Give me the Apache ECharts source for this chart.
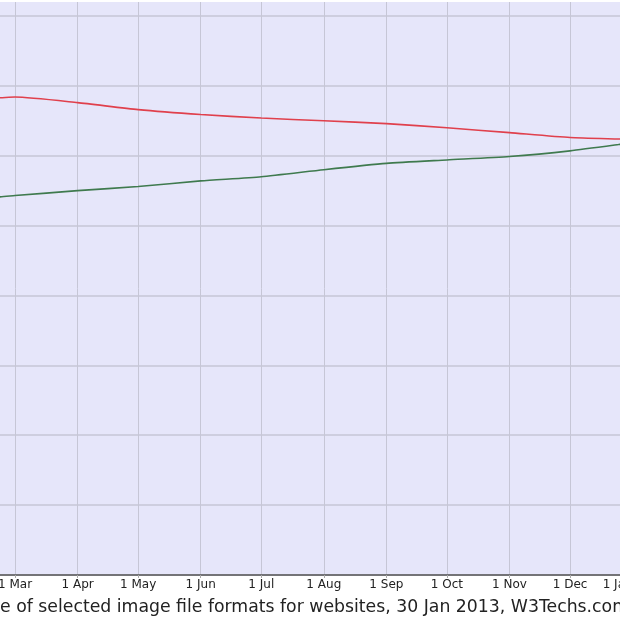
<!DOCTYPE html>
<html>
<head>
<meta charset="utf-8">
<script src="https://cdn.jsdelivr.net/npm/echarts@6/dist/echarts.min.js"></script>
<style>
html,body{margin:0;padding:0;background:#fff;}
#chart{width:620px;height:620px;}
</style>
</head>
<body>
<div id="chart"></div>
<script>
// Dates (UTC) of sampled points
var dates = ['2012-02-01','2012-02-22','2012-03-01','2012-04-01','2012-05-01','2012-06-01','2012-07-01','2012-08-01','2012-09-01','2012-10-01','2012-11-01','2012-12-01','2012-12-25','2013-01-01'];
// Red series (GIF), percent of websites
var gifValues = [68.2, 68.3, 68.4, 67.6, 66.6, 65.9, 65.4, 65.0, 64.6, 64.0, 63.3, 62.6, 62.4, 62.35];
// Green series (PNG), percent of websites
var pngValues = [53.9, 54.1, 54.3, 55.0, 55.6, 56.4, 57.0, 58.0, 58.9, 59.4, 59.9, 60.7, 61.6, 61.9];
var xMin = '2012-02-01';
var xMax = '2013-01-01';
var yTicks = [0, 10, 20, 30, 40, 50, 60, 70, 80];
var captionText = 'Historical trends in the usage of selected image file formats for websites, 30 Jan 2013, W3Techs.com';

function toTs(s){ var p = s.split('-'); return Date.UTC(+p[0], +p[1]-1, +p[2]); }
function pairs(vals){ return dates.map(function(d,i){ return [toTs(d), vals[i]]; }); }

var gridColor = '#c6c6d6';
var splitColors = yTicks.map(function(){ return gridColor; });
splitColors.push('rgba(0,0,0,0)');

var chart = echarts.init(document.getElementById('chart'), null, {renderer:'canvas'});
chart.setOption({
  useUTC: true,
  animation: false,
  backgroundColor: '#ffffff',
  title: {
    text: captionText,
    right: -9,
    top: 599,
    padding: 0,
    textStyle: {fontFamily: 'DejaVu Sans', fontSize: 17.3, fontWeight: 'normal', color: '#222'}
  },
  grid: {
    left: -43.5, right: -12.6, top: 2, bottom: 45,
    outerBoundsMode: 'none', containLabel: false,
    show: true, backgroundColor: '#e6e6fa', borderWidth: 0
  },
  xAxis: {
    type: 'time',
    min: toTs(xMin), max: toTs(xMax),
    splitNumber: 12,
    minInterval: 28*86400000,
    maxInterval: 31*86400000,
    axisLine: {show: true, lineStyle: {color: '#555', width: 1.5}},
    axisTick: {show: true, length: 3, lineStyle: {color: '#aaa'}},
    axisLabel: {
      formatter: '{d} {MMM}', fontFamily: 'DejaVu Sans', fontSize: 12, color: '#222', margin: 4,
      showMinLabel: true, showMaxLabel: true, alignMaxLabel: 'right', hideOverlap: false
    },
    splitLine: {show: true, lineStyle: {color: gridColor, width: 1}},
    minorTick: {show: false}
  },
  yAxis: {
    type: 'value', min: 0, max: 82, interval: 10,
    axisLine: {show: false}, axisTick: {show: false}, axisLabel: {show: false},
    splitLine: {show: true, lineStyle: {color: splitColors, width: 1.5}}
  },
  series: [
    {name: 'GIF', type: 'line', data: pairs(gifValues), showSymbol: false, smooth: 0.2,
     lineStyle: {color: '#e0404c', width: 1.6}, z: 3},
    {name: 'PNG', type: 'line', data: pairs(pngValues), showSymbol: false, smooth: 0.2,
     lineStyle: {color: '#3f7a4e', width: 1.6}, z: 3}
  ]
});
</script>
</body>
</html>
